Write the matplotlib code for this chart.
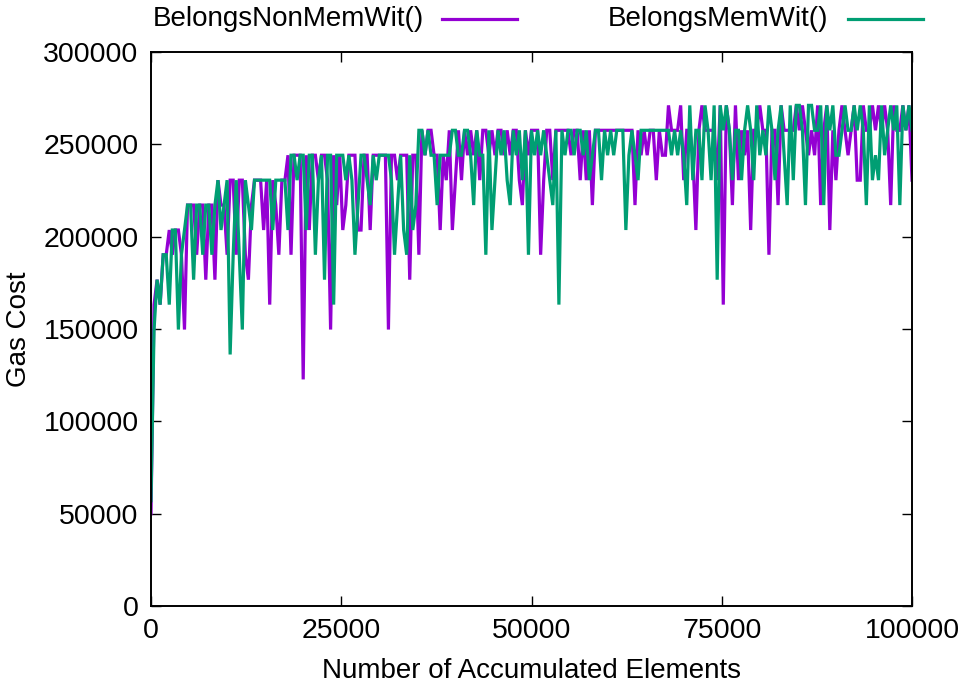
import matplotlib
matplotlib.use("Agg")
import matplotlib.pyplot as plt
from matplotlib.lines import Line2D

plt.rcParams['font.family'] = ['Liberation Sans', 'DejaVu Sans']

# x positions: number of accumulated elements (every 400 elements)
elements = list(range(0, 100001, 400))

nonmem_gas = [
    50000, 163200, 176700, 163200, 190200, 190200, 203600, 190200, 203600, 203600,
    190200, 149700, 217100, 217100, 217100, 190200, 217100, 217100, 176700, 217100,
    217100, 176700, 230600, 217100, 217100, 190200, 230600, 230600, 190200, 230600,
    230600, 190200, 176700, 217100, 230600, 230600, 230600, 203600, 230600, 163200,
    230600, 217100, 190200, 230600, 230600, 244100, 190200, 244100, 244100, 244100,
    122700, 244100, 203600, 244100, 244100, 230600, 244100, 244100, 230600, 149700,
    244100, 217100, 244100, 203600, 217100, 244100, 244100, 244100, 203600, 203600,
    244100, 244100, 203600, 244100, 244100, 244100, 244100, 244100, 149700, 244100,
    244100, 230600, 244100, 244100, 244100, 176700, 244100, 244100, 190200, 257600,
    244100, 257600, 257600, 244100, 244100, 203600, 244100, 230600, 257600, 203600,
    230600, 257600, 230600, 257600, 244100, 257600, 244100, 257600, 230600, 257600,
    257600, 244100, 257600, 244100, 257600, 257600, 244100, 257600, 244100, 257600,
    257600, 230600, 217100, 257600, 244100, 257600, 257600, 257600, 190200, 230600,
    257600, 257600, 230600, 257600, 257600, 257600, 257600, 257600, 244100, 257600,
    257600, 230600, 257600, 230600, 257600, 217100, 257600, 257600, 257600, 257600,
    257600, 257600, 257600, 257600, 257600, 257600, 257600, 257600, 257600, 217100,
    257600, 244100, 257600, 244100, 257600, 257600, 230600, 257600, 244100, 244100,
    271100, 257600, 257600, 257600, 271100, 230600, 257600, 257600, 244100, 203600,
    257600, 271100, 257600, 257600, 257600, 257600, 230600, 271100, 163200, 271100,
    257600, 217100, 271100, 230600, 257600, 244100, 257600, 203600, 257600, 257600,
    271100, 257600, 257600, 190200, 257600, 257600, 217100, 271100, 257600, 257600,
    257600, 257600, 271100, 257600, 271100, 257600, 244100, 257600, 244100, 271100,
    217100, 257600, 271100, 203600, 257600, 230600, 257600, 271100, 257600, 244100,
    257600, 271100, 230600, 230600, 271100, 257600, 257600, 271100, 257600, 271100,
    257600, 271100, 257600, 217100, 271100, 257600, 257600, 271100, 257600, 271100,
    230600,
]

mem_gas = [
    57000, 149700, 176700, 163200, 190200, 190200, 163200, 203600, 203600, 149700,
    190200, 203600, 217100, 217100, 176700, 217100, 217100, 190200, 217100, 217100,
    190200, 217100, 230600, 203600, 217100, 230600, 136200, 190200, 230600, 190200,
    149700, 230600, 217100, 203600, 230600, 230600, 230600, 230600, 230600, 230600,
    203600, 230600, 230600, 230600, 230600, 203600, 244100, 244100, 230600, 244100,
    244100, 203600, 244100, 244100, 190200, 230600, 244100, 176700, 244100, 244100,
    163200, 244100, 244100, 244100, 230600, 244100, 230600, 190200, 217100, 244100,
    244100, 230600, 217100, 244100, 230600, 244100, 244100, 244100, 244100, 230600,
    190200, 217100, 244100, 203600, 190200, 244100, 203600, 217100, 257600, 257600,
    244100, 257600, 244100, 244100, 217100, 244100, 244100, 244100, 244100, 257600,
    257600, 244100, 244100, 257600, 257600, 244100, 217100, 257600, 244100, 244100,
    190200, 257600, 203600, 230600, 257600, 244100, 257600, 230600, 217100, 257600,
    244100, 257600, 230600, 257600, 190200, 257600, 244100, 257600, 244100, 257600,
    244100, 230600, 217100, 257600, 163200, 257600, 244100, 257600, 257600, 244100,
    257600, 257600, 244100, 257600, 230600, 244100, 257600, 257600, 230600, 257600,
    244100, 257600, 244100, 257600, 257600, 257600, 203600, 244100, 257600, 244100,
    230600, 257600, 257600, 257600, 257600, 257600, 257600, 257600, 257600, 257600,
    257600, 244100, 257600, 244100, 257600, 244100, 217100, 271100, 230600, 257600,
    257600, 230600, 271100, 257600, 230600, 271100, 176700, 271100, 257600, 271100,
    257600, 230600, 257600, 257600, 230600, 257600, 271100, 257600, 230600, 271100,
    244100, 257600, 244100, 271100, 257600, 230600, 257600, 271100, 244100, 217100,
    271100, 230600, 271100, 271100, 257600, 217100, 271100, 271100, 257600, 257600,
    271100, 217100, 271100, 257600, 271100, 244100, 244100, 257600, 271100, 257600,
    257600, 271100, 257600, 271100, 257600, 217100, 271100, 230600, 244100, 230600,
    271100, 244100, 257600, 271100, 257600, 271100, 217100, 271100, 257600, 271100,
    257600,
]

x_ticks = [0, 25000, 50000, 75000, 100000]
y_ticks = [0, 50000, 100000, 150000, 200000, 250000, 300000]
series_names = ["BelongsNonMemWit()", "BelongsMemWit()"]
colors = ["#9400D3", "#009E73"]

W, H = 969, 693
fig = plt.figure(figsize=(W / 100, H / 100), dpi=100)
ax = fig.add_axes([151 / W, 1 - 606 / H, (912 - 151) / W, (606 - 52) / H])

ax.plot(elements, nonmem_gas, color=colors[0], lw=2.3, solid_joinstyle='miter')
ax.plot(elements, mem_gas, color=colors[1], lw=2.3, solid_joinstyle='miter')

ax.set_xlim(0, 100000)
ax.set_ylim(0, 300000)
ax.set_xticks(x_ticks)
ax.set_xticklabels([str(v) for v in x_ticks])
ax.set_yticks(y_ticks)
ax.set_yticklabels([str(v) for v in y_ticks])
ax.tick_params(direction='in', length=7, width=1, top=True, right=True,
               labelsize=20.5, colors='black', pad=9)
for s in ax.spines.values():
    s.set_linewidth(1.4)

ax.set_xlabel("Number of Accumulated Elements", fontsize=20, labelpad=10)
ax.set_ylabel("Gas Cost", fontsize=20, labelpad=8)

# gnuplot-style key above the plot: label then line sample
fig.text(424 / W, 1 - 19 / H, series_names[0], ha='right', va='center', fontsize=20)
fig.add_artist(Line2D([442 / W, 517 / W], [1 - 19 / H, 1 - 19 / H], color=colors[0], lw=2.3,
                      transform=fig.transFigure))
fig.text(828 / W, 1 - 19 / H, series_names[1], ha='right', va='center', fontsize=20)
fig.add_artist(Line2D([848 / W, 923 / W], [1 - 19 / H, 1 - 19 / H], color=colors[1], lw=2.3,
                      transform=fig.transFigure))

fig.savefig("out.png", dpi=100)
